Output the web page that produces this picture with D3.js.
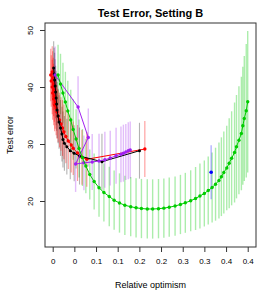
<!DOCTYPE html>
<html>
<head>
<meta charset="utf-8">
<script src="https://cdn.jsdelivr.net/npm/d3@7"></script>
<style>
  body { margin: 0; background: #fff; }
  svg { display: block; font-family: "Liberation Sans", Arial, sans-serif; }
</style>
</head>
<body>
<div id="chart"></div>
<script>
// green series
var greenX = [0.011, 0.016, 0.021, 0.026, 0.031, 0.037, 0.042, 0.048, 0.054, 0.061,
              0.068, 0.076, 0.085, 0.095, 0.105, 0.116, 0.126, 0.137, 0.148, 0.160,
              0.171, 0.182, 0.194, 0.205, 0.217, 0.228, 0.239, 0.251, 0.262, 0.272,
              0.283, 0.293, 0.302, 0.311, 0.319, 0.327, 0.334, 0.341, 0.346, 0.351,
              0.357, 0.362, 0.367, 0.373, 0.377, 0.382, 0.387, 0.390, 0.393, 0.397, 0.400];
var greenY = [42.11, 40.53, 38.95, 37.37, 35.79, 34.21, 32.54, 30.88, 29.21, 27.63,
              26.14, 24.65, 23.42, 22.32, 21.49, 20.79, 20.14, 19.65, 19.25, 19.00,
              18.81, 18.68, 18.60, 18.60, 18.65, 18.75, 18.91, 19.12, 19.39, 19.68,
              20.04, 20.44, 20.88, 21.32, 21.84, 22.37, 22.95, 23.60, 24.26, 25.00,
              25.79, 26.61, 27.49, 28.51, 29.53, 30.67, 31.84, 33.21, 34.47, 35.84, 37.42];
var greenErr = [5.3, 5.3, 5.3, 5.3, 5.3, 5.3, 5.3, 5.2, 5.1, 5.0,
                4.8, 4.4, 4.9, 5.1, 5.1, 5.2, 5.2, 5.2, 5.2, 5.2,
                5.2, 5.2, 5.2, 5.2, 5.2, 5.2, 5.2, 5.2, 5.2, 5.26,
                5.35, 5.53, 5.7, 5.79, 5.96, 6.14, 6.4, 6.67, 6.91, 7.19,
                7.42, 7.89, 8.25, 8.77, 9.07, 9.47, 9.96, 10.35, 10.96, 11.7, 12.4];

// red series
var redX = [-0.001, -0.004, 0.000, -0.003, 0.001, -0.001, 0.002, 0.000, 0.003, 0.002,
            0.005, 0.004, 0.007, 0.009, 0.011, 0.014, 0.017, 0.020, 0.023, 0.027,
            0.032, 0.038, 0.042, 0.051, 0.060, 0.070, 0.189];
var redY = [42.63, 42.11, 41.58, 41.05, 40.53, 40.00, 39.47, 38.95, 38.42, 37.89,
            37.37, 36.84, 36.32, 35.61, 34.91, 34.21, 33.51, 32.81, 32.11, 31.32,
            30.53, 29.82, 29.25, 28.42, 27.67, 27.32, 29.12];
var redErr = [4.5, 4.6, 4.7, 4.5, 4.6, 4.8, 4.6, 4.7, 4.5, 4.6,
              4.7, 4.6, 4.8, 4.7, 4.6, 4.8, 4.7, 4.9, 4.8, 4.7,
              4.9, 4.8, 4.7, 4.9, 4.8, 4.8, 4.9];

// black series
var blackX = [0.002, 0.003, 0.004, 0.005, 0.006, 0.007, 0.008, 0.009, 0.011, 0.013,
              0.016, 0.019, 0.021, 0.024, 0.029, 0.036, 0.044, 0.055, 0.101, 0.178];
var blackY = [43.33, 42.28, 41.23, 40.18, 39.12, 38.07, 37.02, 35.96, 34.91, 33.86,
              32.81, 31.75, 30.79, 30.12, 29.53, 28.82, 28.37, 27.89, 26.89, 28.82];
var blackErr = [4.7, 4.6, 4.8, 4.7, 4.6, 4.8, 4.7, 4.9, 4.8, 4.7,
                4.9, 4.8, 4.9, 4.8, 4.9, 5.0, 4.9, 5.0, 4.9, 4.9];

// purple series
var purpleX = [0.005, 0.052, 0.073, 0.047, 0.064, 0.081, 0.095, 0.107, 0.118, 0.130,
               0.140, 0.145, 0.150, 0.155, 0.159];
var purpleY = [42.10, 36.49, 31.14, 26.49, 26.70, 26.84, 27.02, 27.23, 27.54, 27.93,
               28.19, 28.39, 28.60, 28.81, 28.95];
var purpleErr = [5.0, 5.4, 5.1, 4.9, 4.8, 4.9, 4.8, 4.9, 4.8, 4.9,
                 4.9, 5.0, 4.9, 5.0, 5.0];

// blue series
var blueX = [0.325];
var blueY = [25.04];
var blueErr = [4.75];

// axis ticks
var xTicks = [0, 0.0444, 0.0889, 0.1333, 0.1778, 0.2222, 0.2667, 0.3111, 0.3556, 0.4];
var xTickLabels = ["0", "0", "0.1", "0.1", "0.2", "0.2", "0.3", "0.3", "0.4", "0.4"];
var yTicks = [20, 30, 40, 50];

var margin = {top: 23, right: 10, bottom: 45, left: 45},
    width = 266 - margin.left - margin.right,
    height = 292 - margin.top - margin.bottom;

var x = d3.scaleLinear().domain([-0.0158, 0.4170]).range([0, width]);
var y = d3.scaleLinear().domain([11.93, 51.228]).range([height, 0]);

var svg = d3.select("#chart").append("svg")
    .attr("width", 266)
    .attr("height", 292);

var g = svg.append("g")
    .attr("transform", "translate(" + margin.left + "," + margin.top + ")");

function pts(xs, ys, es) {
  return xs.map(function(d, i) { return {x: d, y: ys[i], e: es[i]}; });
}

var series = [
  {data: pts(greenX, greenY, greenErr), bar: "rgba(0,200,0,0.33)", col: "#00cd00", r: 1.7, bw: 1.4},
  {data: pts(blackX, blackY, blackErr), bar: "rgba(0,0,0,0.3)", col: "#000", r: 1.5, bw: 1.1},
  {data: pts(redX, redY, redErr), bar: "rgba(255,0,0,0.4)", col: "#ff0000", r: 1.7, bw: 1.1},
  {data: pts(purpleX, purpleY, purpleErr), bar: "rgba(160,32,240,0.3)", col: "#a020f0", r: 1.7, bw: 1.4},
  {data: pts(blueX, blueY, blueErr), bar: "rgba(0,0,255,0.3)", col: "#0000ff", r: 1.8, bw: 1.4}
];

// error bars first
series.forEach(function(s) {
  g.append("g").selectAll("line")
    .data(s.data)
    .enter().append("line")
      .attr("x1", function(d) { return x(d.x); })
      .attr("x2", function(d) { return x(d.x); })
      .attr("y1", function(d) { return y(d.y - d.e); })
      .attr("y2", function(d) { return y(d.y + d.e); })
      .attr("stroke", s.bar)
      .attr("stroke-width", s.bw);
});

var line = d3.line()
    .x(function(d) { return x(d.x); })
    .y(function(d) { return y(d.y); });

// then lines and points
[series[2], series[1], series[3], series[0], series[4]].forEach(function(s) {
  g.append("path")
      .datum(s.data)
      .attr("d", line)
      .attr("fill", "none")
      .attr("stroke", s.col)
      .attr("stroke-width", 1);
  g.append("g").selectAll("circle")
    .data(s.data)
    .enter().append("circle")
      .attr("cx", function(d) { return x(d.x); })
      .attr("cy", function(d) { return y(d.y); })
      .attr("r", s.r)
      .attr("fill", s.col);
});

// box
g.append("rect")
    .attr("width", width)
    .attr("height", height)
    .attr("fill", "none")
    .attr("stroke", "#333")
    .attr("stroke-width", 1);

// x axis
var xAxis = g.append("g")
    .attr("transform", "translate(0," + height + ")")
    .call(d3.axisBottom(x)
      .tickValues(xTicks)
      .tickFormat(function(d, i) { return xTickLabels[i]; })
      .tickSize(5)
      .tickSizeOuter(0)
      .tickPadding(6));
xAxis.select(".domain").remove();
xAxis.selectAll("line").attr("stroke", "#333");
xAxis.selectAll("text").style("font-size", "8px").attr("fill", "#000")
    .style("font-family", "Liberation Sans, Arial, sans-serif");

// y axis, labels rotated like R
var yAxis = g.append("g")
    .call(d3.axisLeft(y).tickValues(yTicks).tickSize(5).tickSizeOuter(0));
yAxis.select(".domain").remove();
yAxis.selectAll("line").attr("stroke", "#333");
yAxis.selectAll("text")
    .attr("x", 0)
    .attr("dy", 0)
    .attr("transform", "translate(-12,0) rotate(-90)")
    .style("text-anchor", "middle")
    .style("font-size", "8px")
    .style("font-family", "Liberation Sans, Arial, sans-serif")
    .attr("fill", "#000");

// title
svg.append("text")
    .attr("x", margin.left + width / 2)
    .attr("y", 16.5)
    .style("text-anchor", "middle")
    .style("font-size", "11px")
    .style("font-weight", "bold")
    .text("Test Error, Setting B");

// text label for the x axis
svg.append("text")
    .attr("x", margin.left + width / 2)
    .attr("y", 287.5)
    .style("text-anchor", "middle")
    .style("font-size", "9px")
    .text("Relative optimism");

// text label for the y axis
svg.append("text")
    .attr("transform", "translate(13," + (margin.top + height / 2) + ") rotate(-90)")
    .style("text-anchor", "middle")
    .style("font-size", "9px")
    .text("Test error");
</script>
</body>
</html>
